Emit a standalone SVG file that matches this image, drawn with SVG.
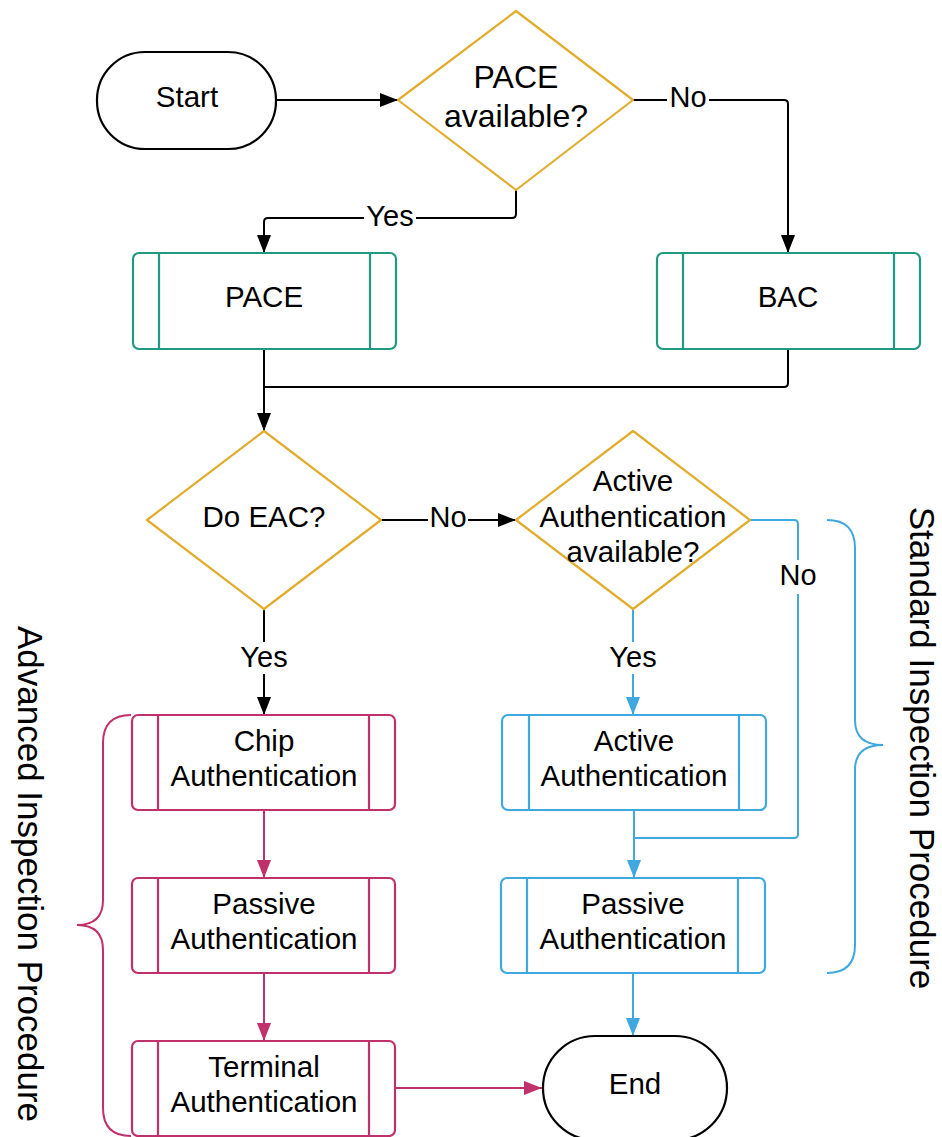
<svg xmlns="http://www.w3.org/2000/svg" width="942" height="1137" viewBox="0 0 942 1137">
<style>
text{font-family:"Liberation Sans",Arial,sans-serif;fill:#000;text-anchor:middle}
.t{font-size:29.5px}
.d{font-size:32px}
.lbl{font-size:29px}
.side{font-size:35px}
.term{fill:#fff;stroke:#000;stroke-width:2.2}
.dia{fill:#fff;stroke:#e2ad2e;stroke-width:2.2;stroke-linejoin:round}
.teal{fill:#fff;stroke:#1f9a80;stroke-width:2.2}
.crim{fill:#fff;stroke:#c0306a;stroke-width:2.2}
.blue{fill:#fff;stroke:#3ea8df;stroke-width:2.2}
.ck{fill:none;stroke:#000;stroke-width:2}
.cc{fill:none;stroke:#c0306a;stroke-width:2}
.cb{fill:none;stroke:#3ea8df;stroke-width:2}
.bg{fill:#fff;stroke:none}
</style>
<defs>
<marker id="ak" markerUnits="userSpaceOnUse" markerWidth="18" markerHeight="14" refX="18" refY="7" orient="auto"><path d="M0,0 L18,7 L0,14 z" fill="#000"/></marker>
<marker id="ac" markerUnits="userSpaceOnUse" markerWidth="18" markerHeight="14" refX="18" refY="7" orient="auto"><path d="M0,0 L18,7 L0,14 z" fill="#c0306a"/></marker>
<marker id="ab" markerUnits="userSpaceOnUse" markerWidth="18" markerHeight="14" refX="18" refY="7" orient="auto"><path d="M0,0 L18,7 L0,14 z" fill="#3ea8df"/></marker>
</defs>
<rect width="942" height="1137" fill="#fff"/>

<g id="connectors">
<path class="ck" d="M276,100 H398" marker-end="url(#ak)"/>
<path class="ck" d="M633,100 H784 Q788,100 788,104 V253" marker-end="url(#ak)"/>
<path class="ck" d="M516,190 V214 Q516,218 512,218 H268 Q264,218 264,222 V253" marker-end="url(#ak)"/>
<path class="ck" d="M264,349 V431" marker-end="url(#ak)"/>
<path class="ck" d="M788,349 V383 Q788,387 784,387 H264"/>
<path class="ck" d="M381,520 H516" marker-end="url(#ak)"/>
<path class="ck" d="M264,609 V715" marker-end="url(#ak)"/>
<path class="cb" d="M633,609 V715" marker-end="url(#ab)"/>
<path class="cb" d="M750,520 H794 Q798,520 798,524 V834 Q798,838 794,838 H634"/>
<path class="cb" d="M634,810 V878" marker-end="url(#ab)"/>
<path class="cb" d="M633,973 V1036" marker-end="url(#ab)"/>
<path class="cc" d="M264,810 V878" marker-end="url(#ac)"/>
<path class="cc" d="M264,973 V1041" marker-end="url(#ac)"/>
<path class="cc" d="M395,1088 H542" marker-end="url(#ac)"/>
<rect class="bg" x="667" y="86" width="42" height="28"/>
<text class="lbl" x="688" y="107">No</text>
<rect class="bg" x="364" y="204" width="52" height="28"/>
<text class="lbl" x="390" y="226">Yes</text>
<rect class="bg" x="428" y="506" width="40" height="28"/>
<text class="lbl" x="448" y="527">No</text>
<rect class="bg" x="237" y="642" width="54" height="32"/>
<text class="lbl" x="264" y="667">Yes</text>
<rect class="bg" x="606" y="642" width="54" height="32"/>
<text class="lbl" x="633" y="667">Yes</text>
<rect class="bg" x="778" y="560" width="40" height="34"/>
<text class="lbl" x="798" y="585">No</text>
</g>

<g id="start">
<rect class="term" x="97" y="52" width="179" height="97" rx="48" ry="48"/>
<text class="t" x="187" y="107">Start</text>
</g>

<g id="pace-available">
<path class="dia" d="M516,11 L633,100 L516,190 L398,100 Z"/>
<text class="d" x="516" y="88">PACE</text>
<text class="d" x="516" y="127">available?</text>
</g>

<g id="pace">
<rect class="teal" x="133" y="253" width="263" height="96" rx="6"/>
<path class="teal" d="M159,253 V349 M370,253 V349"/>
<text class="t" x="264" y="307">PACE</text>
</g>

<g id="bac">
<rect class="teal" x="657" y="253" width="263" height="96" rx="6"/>
<path class="teal" d="M683,253 V349 M894,253 V349"/>
<text class="t" x="788" y="307">BAC</text>
</g>

<g id="do-eac">
<path class="dia" d="M264,431 L381,520 L264,609 L147,520 Z"/>
<text class="t" x="264" y="527">Do EAC?</text>
</g>

<g id="aa-available">
<path class="dia" d="M633,431 L750,520 L633,609 L516,520 Z"/>
<text class="t" x="633" y="491">Active</text>
<text class="t" x="633" y="527">Authentication</text>
<text class="t" x="633" y="562">available?</text>
</g>

<g id="chip-auth">
<rect class="crim" x="132" y="715" width="263" height="95" rx="6"/>
<path class="crim" d="M158,715 V810 M369,715 V810"/>
<text class="t" x="264" y="751">Chip</text>
<text class="t" x="264" y="786">Authentication</text>
</g>

<g id="passive-auth-adv">
<rect class="crim" x="132" y="878" width="263" height="95" rx="6"/>
<path class="crim" d="M158,878 V973 M369,878 V973"/>
<text class="t" x="264" y="914">Passive</text>
<text class="t" x="264" y="949">Authentication</text>
</g>

<g id="terminal-auth">
<rect class="crim" x="132" y="1041" width="263" height="95" rx="6"/>
<path class="crim" d="M158,1041 V1136 M369,1041 V1136"/>
<text class="t" x="264" y="1077">Terminal</text>
<text class="t" x="264" y="1112">Authentication</text>
</g>

<g id="active-auth">
<rect class="blue" x="502" y="715" width="264" height="95" rx="6"/>
<path class="blue" d="M529,715 V810 M739,715 V810"/>
<text class="t" x="634" y="751">Active</text>
<text class="t" x="634" y="786">Authentication</text>
</g>

<g id="passive-auth-std">
<rect class="blue" x="501" y="878" width="264" height="95" rx="6"/>
<path class="blue" d="M527,878 V973 M738,878 V973"/>
<text class="t" x="633" y="914">Passive</text>
<text class="t" x="633" y="949">Authentication</text>
</g>

<g id="end">
<rect class="term" x="543" y="1036" width="184" height="104" rx="52" ry="52"/>
<text class="t" x="635" y="1094">End</text>
</g>

<g id="advanced-brace">
<path fill="none" stroke="#c0306a" stroke-width="2" d="M131,715 Q103,715 103,743 V900 Q103,925 77,925 Q103,925 103,950 V1108 Q103,1136 131,1136"/>
<text class="side" transform="translate(18,874) rotate(90)" x="0" y="0">Advanced Inspection Procedure</text>
</g>

<g id="standard-brace">
<path fill="none" stroke="#3ea8df" stroke-width="2" d="M827,520 Q855,520 855,548 V720 Q855,745 883,745 Q855,745 855,770 V945 Q855,973 827,973"/>
<text class="side" transform="translate(910,748) rotate(90)" x="0" y="0">Standard Inspection Procedure</text>
</g>
</svg>
